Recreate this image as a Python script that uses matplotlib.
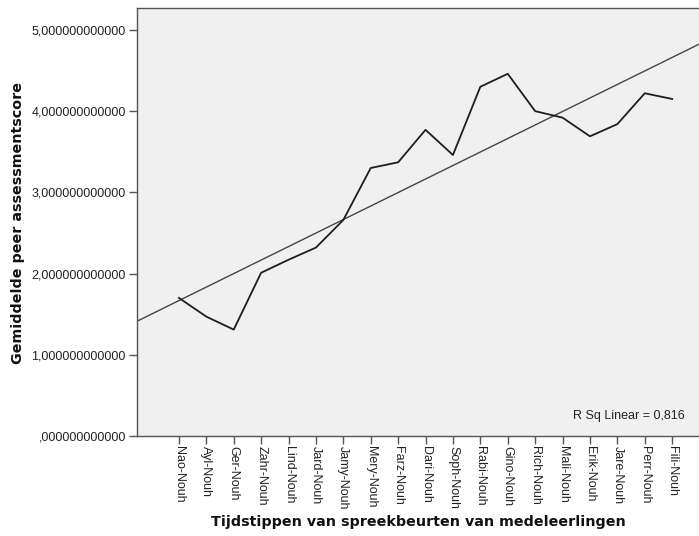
import numpy as np
import matplotlib.pyplot as plt

# mean peer-assessment score per talk, in chronological order
speakers = ["Nao-Nouh", "Ayl-Nouh", "Ger-Nouh", "Zahr-Nouh", "Lind-Nouh", "Jard-Nouh",
            "Jamy-Nouh", "Mery-Nouh", "Farz-Nouh", "Dari-Nouh", "Soph-Nouh", "Rabi-Nouh",
            "Gino-Nouh", "Rich-Nouh", "Mali-Nouh", "Erik-Nouh", "Jare-Nouh", "Perr-Nouh",
            "Fili-Nouh"]
mean_scores = [1.70, 1.47, 1.31, 2.01, 2.17, 2.32, 2.66, 3.30, 3.37, 3.77, 3.46, 4.30,
               4.46, 4.00, 3.92, 3.69, 3.84, 4.22, 4.15]
rsq_text = "R Sq Linear = 0,816"
y_ticks = [0, 1, 2, 3, 4, 5]

x_pos = np.arange(1, len(speakers) + 1)

fig = plt.figure(figsize=(6.99, 5.36), dpi=100)
ax = fig.add_axes([137 / 699, 1 - 436 / 536, 1 - 137 / 699, 428 / 536])
ax.set_facecolor("#f0f0f0")

# linear fit over the whole axis width
slope, intercept = np.polyfit(x_pos, mean_scores, 1)
x_fit = np.array([-2, 22])
ax.plot(x_fit, slope * x_fit + intercept, color="#454545", lw=1.0)
ax.plot(x_pos, mean_scores, color="#1e1e1e", lw=1.3)

ax.set_xlim(-0.53, 19.98)
ax.set_ylim(0, 5.27)

ax.set_yticks(y_ticks)
ax.set_yticklabels(["," + "0" * 12 if v == 0 else f"{v},{'0' * 12}" for v in y_ticks],
                   fontfamily="Liberation Sans", fontsize=9, color="#222222")
ax.set_xticks(x_pos)
ax.set_xticklabels(speakers, rotation=270, fontfamily="Liberation Sans", fontsize=9,
                   color="#222222")
ax.tick_params(direction="out", length=6, width=1, color="#555555", pad=2)
ax.tick_params(axis="x", pad=1)

for side in ["left", "top", "bottom"]:
    ax.spines[side].set_color("#555555")
    ax.spines[side].set_linewidth(1.0)
ax.spines["right"].set_visible(False)

ax.text(0.975, 0.047, rsq_text, transform=ax.transAxes, ha="right", va="center",
        fontfamily="Liberation Sans", fontsize=9, color="#222222")

fig.text(418 / 699, 1 - 522 / 536, "Tijdstippen van spreekbeurten van medeleerlingen",
         ha="center", va="center", fontsize=10.3, fontweight="bold", color="#111111")
fig.text(18 / 699, 1 - 223 / 536, "Gemiddelde peer assessmentscore", rotation=90,
         ha="center", va="center", fontsize=10.3, fontweight="bold", color="#111111")

fig.savefig("out.png", dpi=100)
